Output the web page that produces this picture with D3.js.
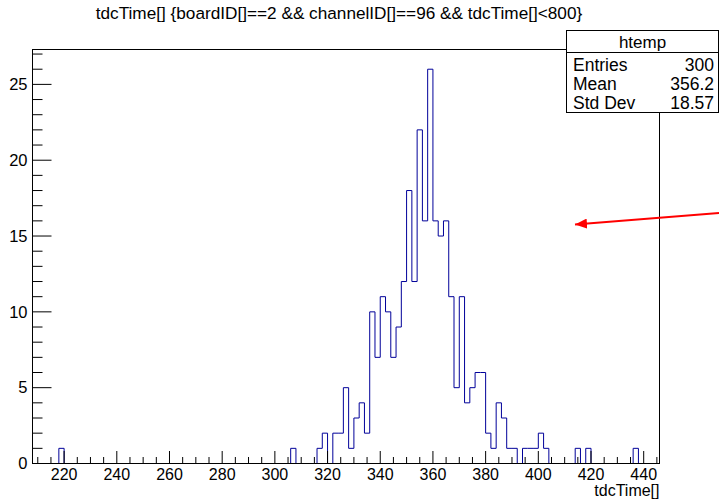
<!DOCTYPE html>
<html>
<head>
<meta charset="utf-8">
<script src="https://cdn.jsdelivr.net/npm/d3@7"></script>
<style>
  body { margin: 0; background: #fff; }
  svg { display: block; font-family: "Liberation Sans", Arial, Helvetica, sans-serif; }
</style>
</head>
<body>
<div id="chart"></div>
<script>
// histogram binning (tdcTime, bin width 2)
const xMin = 208;
const xMax = 446;
const binWidth = 2;

// non-empty bins: lower edge -> entries
const binLow = [218, 306, 316, 318, 322, 324, 326, 328, 330, 332, 334,
  336, 338, 340, 342, 344, 346, 348, 350, 352, 354, 356, 358, 360, 362, 364,
  366, 368, 370, 372, 374, 376, 378, 380, 382, 384, 386, 388, 390, 394, 396,
  398, 400, 402, 414, 418, 436];
const binCount = [1, 1, 1, 2, 2, 2, 5, 1, 3, 4, 2,
  10, 7, 11, 10, 7, 9, 12, 18, 12, 22, 16, 26, 16, 15, 16,
  11, 5, 11, 4, 5, 6, 6, 2, 1, 4, 3, 1, 1, 1, 1,
  1, 2, 1, 1, 1, 1];

const xTicks = [220, 240, 260, 280, 300, 320, 340, 360, 380, 400, 420, 440];
const yTicks = [0, 5, 10, 15, 20, 25];

const title = "tdcTime[] {boardID[]==2 && channelID[]==96 && tdcTime[]<800}";
const xTitle = "tdcTime[]";
const statsName = "htemp";
const statsRows = [["Entries", "300"], ["Mean", "356.2"], ["Std Dev", "18.57"]];

const W = 719, H = 499;
const frame = { left: 32.5, right: 659.5, top: 49.5, bottom: 463.5 };

const svg = d3.select("#chart").append("svg").attr("width", W).attr("height", H);

const x = d3.scaleLinear().domain([xMin, xMax]).range([frame.left, frame.right]);
const y = d3.scaleLinear().domain([0, 27.3]).range([frame.bottom, frame.top]);

// full bin list
const nBins = Math.round((xMax - xMin) / binWidth);
const bins = d3.range(nBins).map(i => {
  const lo = xMin + i * binWidth;
  const k = binLow.indexOf(lo);
  return { lo: lo, hi: lo + binWidth, n: k >= 0 ? binCount[k] : 0 };
});

// title
svg.append("text")
  .attr("x", 339).attr("y", 19)
  .attr("text-anchor", "middle")
  .style("font-size", "17.2px")
  .text(title);

// histogram staircase
const pts = [];
bins.forEach(b => { pts.push([x(b.lo), y(b.n)]); pts.push([x(b.hi), y(b.n)]); });
svg.append("path")
  .attr("d", d3.line()(pts))
  .attr("fill", "none")
  .attr("stroke", "#000099")
  .attr("stroke-width", 1);

// frame
svg.append("rect")
  .attr("x", frame.left).attr("y", frame.top)
  .attr("width", frame.right - frame.left).attr("height", frame.bottom - frame.top)
  .attr("fill", "none").attr("stroke", "#000").attr("stroke-width", 1);

// x axis ticks (inside, pointing up)
const xg = svg.append("g");
d3.range(210, 446, 5).forEach(v => {
  const major = v % 20 === 0;
  xg.append("line")
    .attr("x1", x(v)).attr("x2", x(v))
    .attr("y1", frame.bottom).attr("y2", frame.bottom - (major ? 12.5 : 6.5))
    .attr("stroke", "#000");
});
xg.selectAll("text.xl").data(xTicks).join("text")
  .attr("x", d => x(d)).attr("y", 480)
  .attr("text-anchor", "middle")
  .style("font-size", "16px")
  .text(d => d);

svg.append("text")
  .attr("x", frame.right).attr("y", 496)
  .attr("text-anchor", "end")
  .style("font-size", "16px")
  .text(xTitle);

// y axis ticks (inside, pointing right)
const yg = svg.append("g");
d3.range(0, 28).forEach(v => {
  const major = v % 5 === 0;
  yg.append("line")
    .attr("x1", frame.left).attr("x2", frame.left + (major ? 19 : 10))
    .attr("y1", y(v)).attr("y2", y(v))
    .attr("stroke", "#000");
});
yg.selectAll("text.yl").data(yTicks).join("text")
  .attr("x", 27.5).attr("y", d => y(d) + 5.8)
  .attr("text-anchor", "end")
  .style("font-size", "16.5px")
  .text(d => d);

// stats box
const sb = { x: 566.5, y: 30.5, w: 152, h: 82 };
const stats = svg.append("g");
stats.append("rect")
  .attr("x", sb.x).attr("y", sb.y).attr("width", sb.w).attr("height", sb.h)
  .attr("fill", "#fff").attr("stroke", "#000");
stats.append("line")
  .attr("x1", sb.x).attr("x2", sb.x + sb.w)
  .attr("y1", 52.5).attr("y2", 52.5)
  .attr("stroke", "#000");
stats.append("text")
  .attr("x", sb.x + sb.w / 2).attr("y", 47.5)
  .attr("text-anchor", "middle")
  .style("font-size", "17px")
  .text(statsName);
statsRows.forEach((r, i) => {
  const by = 70.5 + i * 19;
  stats.append("text").attr("x", 573).attr("y", by).style("font-size", "17.5px").text(r[0]);
  stats.append("text").attr("x", 714).attr("y", by).attr("text-anchor", "end").style("font-size", "17.5px").text(r[1]);
});

// red arrow
svg.append("defs").append("marker")
  .attr("id", "head").attr("viewBox", "0 0 12 10")
  .attr("refX", 12).attr("refY", 5)
  .attr("markerWidth", 12).attr("markerHeight", 10)
  .attr("markerUnits", "userSpaceOnUse")
  .attr("orient", "auto")
  .append("path").attr("d", "M0,0 L12,5 L0,10 Z").attr("fill", "#ff0000");
svg.append("line")
  .attr("x1", 719).attr("y1", 213)
  .attr("x2", 575).attr("y2", 224.5)
  .attr("stroke", "#ff0000").attr("stroke-width", 2)
  .attr("marker-end", "url(#head)");
</script>
</body>
</html>
